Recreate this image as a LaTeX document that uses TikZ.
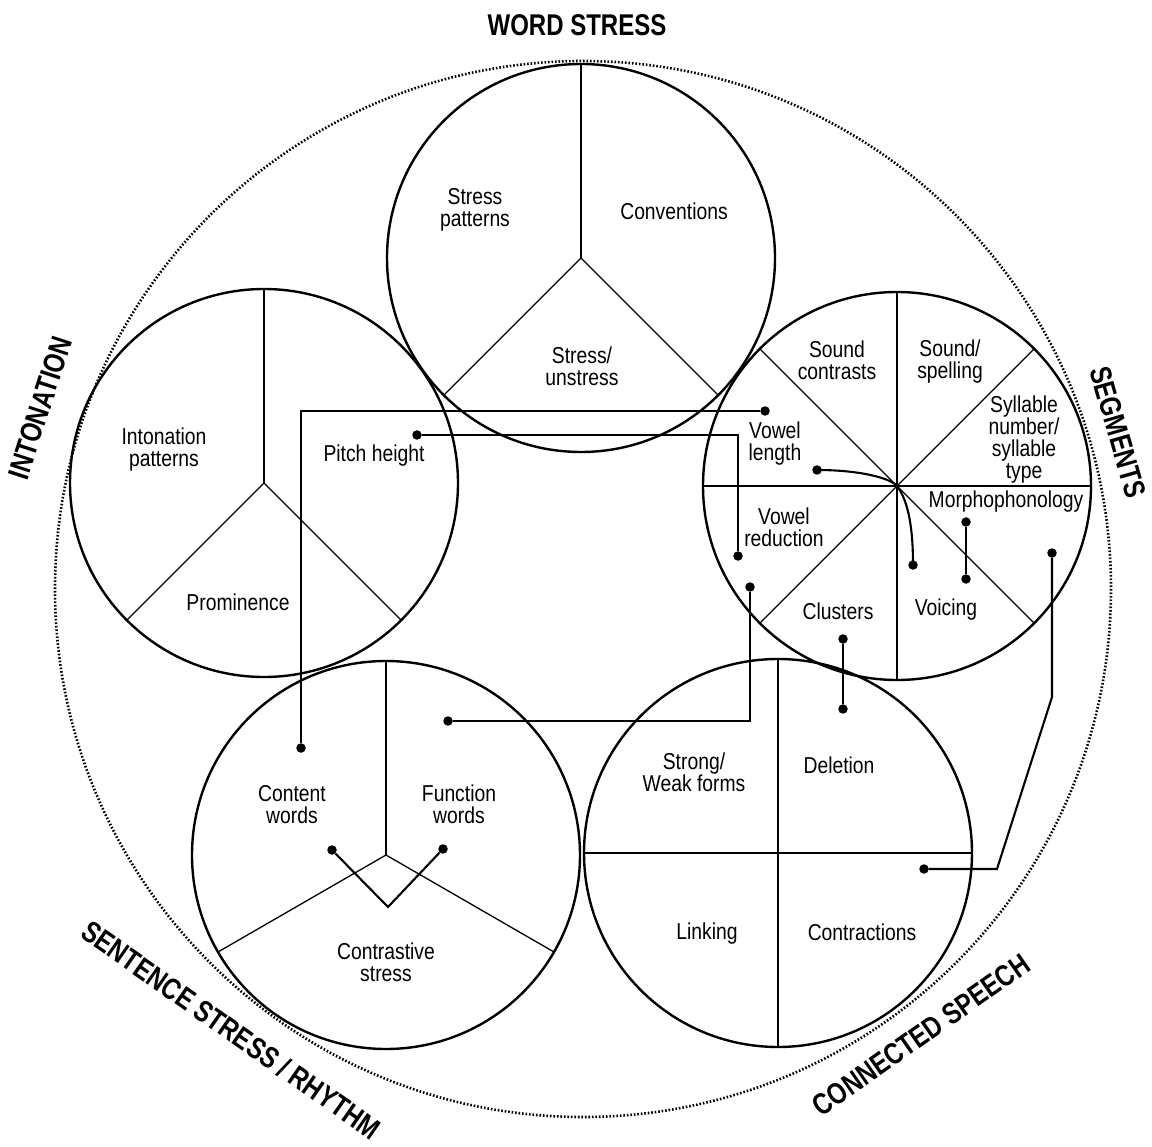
\documentclass[tikz,border=0pt]{standalone}
\usepackage{fontspec}
\setmainfont{Liberation Sans}
\newfontfamily\labfont[FakeStretch=0.84]{Liberation Sans}
\newfontfamily\headfont[FakeStretch=0.8]{Liberation Sans}
\begin{document}
\begin{tikzpicture}[x=1pt,y=-1pt,
  ring/.style={draw, circle, line width=2.4pt, minimum size=388pt, inner sep=0pt},
  spoke/.style={line width=1.3pt},
  link/.style={line width=2.1pt},
  dot/.style={circle, fill, inner sep=0pt, minimum size=9.5pt},
  lab/.style={font=\labfont\fontsize{23}{22}\selectfont, align=center, inner sep=0pt},
  head/.style={font=\headfont\bfseries\fontsize{30}{30}\selectfont, inner sep=0pt}]
\useasboundingbox (0,0) rectangle (1152,1147);
\fill[white] (0,0) rectangle (1152,1147);

% outer dotted circle
\draw[line width=2.6pt, dash pattern=on 1.6pt off 1.9pt] (583,589) circle[radius=528];

% circles
\node[ring] (ws) at (581,258) {};
\node[ring] (in) at (264,483) {};
\node[ring] (sg) at (897,486) {};
\node[ring] (ss) at (386,855) {};
\node[ring] (cs) at (778,853) {};

% spokes
\foreach \a in {270,135,45} \draw[spoke] (ws.center) -- ++(\a:194);
\foreach \a in {270,135,45} \draw[spoke] (in.center) -- ++(\a:194);
\foreach \a in {0,45,...,315} \draw[spoke] (sg.center) -- ++(\a:194);
\foreach \a in {270,150,30} \draw[spoke] (ss.center) -- ++(\a:194);
\foreach \a in {0,90,180,270} \draw[spoke] (cs.center) -- ++(\a:194);

% headings
\node[head] (hws) at (577,25) {WORD STRESS};
\node[head, rotate=72] (hin) at (40,408) {INTONATION};
\node[head, rotate=-74] (hsg) at (1118,432) {SEGMENTS};
\node[head, rotate=-35] (hss) at (231,1030) {SENTENCE STRESS / RHYTHM};
\node[head, rotate=35] (hcs) at (921,1035) {CONNECTED SPEECH};

% labels: word stress
\node[lab] (l1) at (475,210) {Stress\\patterns};
\node[lab] (l2) at (674,211) {Conventions};
\node[lab] (l3) at (582,366) {Stress/\\unstress};
% intonation
\node[lab] (l4) at (164,450) {Intonation\\patterns};
\node[lab] (l5) at (374,456) {Pitch height};
\node[lab] (l6) at (238,602) {Prominence};
% segments
\node[lab] (l7) at (837,360) {Sound\\contrasts};
\node[lab] (l8) at (950,362) {Sound/\\spelling};
\node[lab] (l9) at (1024,440) {Syllable\\number/\\syllable\\type};
\node[lab] (l10) at (775,444) {Vowel\\length};
\node[lab] (l11) at (1006,502) {Morphophonology};
\node[lab] (l12) at (784,527) {Vowel\\reduction};
\node[lab] (l13) at (838,611) {Clusters};
\node[lab] (l14) at (946,610) {Voicing};
% sentence stress
\node[lab] (l15) at (292,805) {Content\\words};
\node[lab] (l16) at (459,804) {Function\\words};
\node[lab] (l17) at (386,962) {Contrastive\\stress};
% connected speech
\node[lab] (l18) at (694,772) {Strong/\\Weak forms};
\node[lab] (l19) at (839,765) {Deletion};
\node[lab] (l20) at (707,934) {Linking};
\node[lab] (l21) at (862,932) {Contractions};

% dots
\node[dot] (d1) at (765,411) {};
\node[dot] (d2) at (301,748) {};
\node[dot] (d3) at (417,435) {};
\node[dot] (d4) at (738,556) {};
\node[dot] (d5) at (448,721) {};
\node[dot] (d6) at (750,587) {};
\node[dot] (d7) at (843,639) {};
\node[dot] (d8) at (843,709) {};
\node[dot] (d9) at (966,522) {};
\node[dot] (d10) at (966,579) {};
\node[dot] (d11) at (1052,553) {};
\node[dot] (d12) at (924,869) {};
\node[dot] (d13) at (817,470) {};
\node[dot] (d14) at (913,565) {};
\node[dot] (d15) at (332,850) {};
\node[dot] (d16) at (443,849) {};
\coordinate (v) at (388,907);
\coordinate (k1) at (1052,697);
\coordinate (k2) at (997,869);

% connectors
\draw[link] (d1) -| (d2);
\draw[link] (d3) -| (d4);
\draw[link] (d5) -| (d6);
\draw[link] (d7) -- (d8);
\draw[link] (d9) -- (d10);
\draw[link] (d11) -- (k1) -- (k2) -- (d12);
\draw[link] (d13.center) .. controls (860,470) and (890,478) .. (sg.center) .. controls (909,502) and (913,530) .. (d14.center);
\draw[link] (d15) -- (v) -- (d16);
\end{tikzpicture}
\end{document}
